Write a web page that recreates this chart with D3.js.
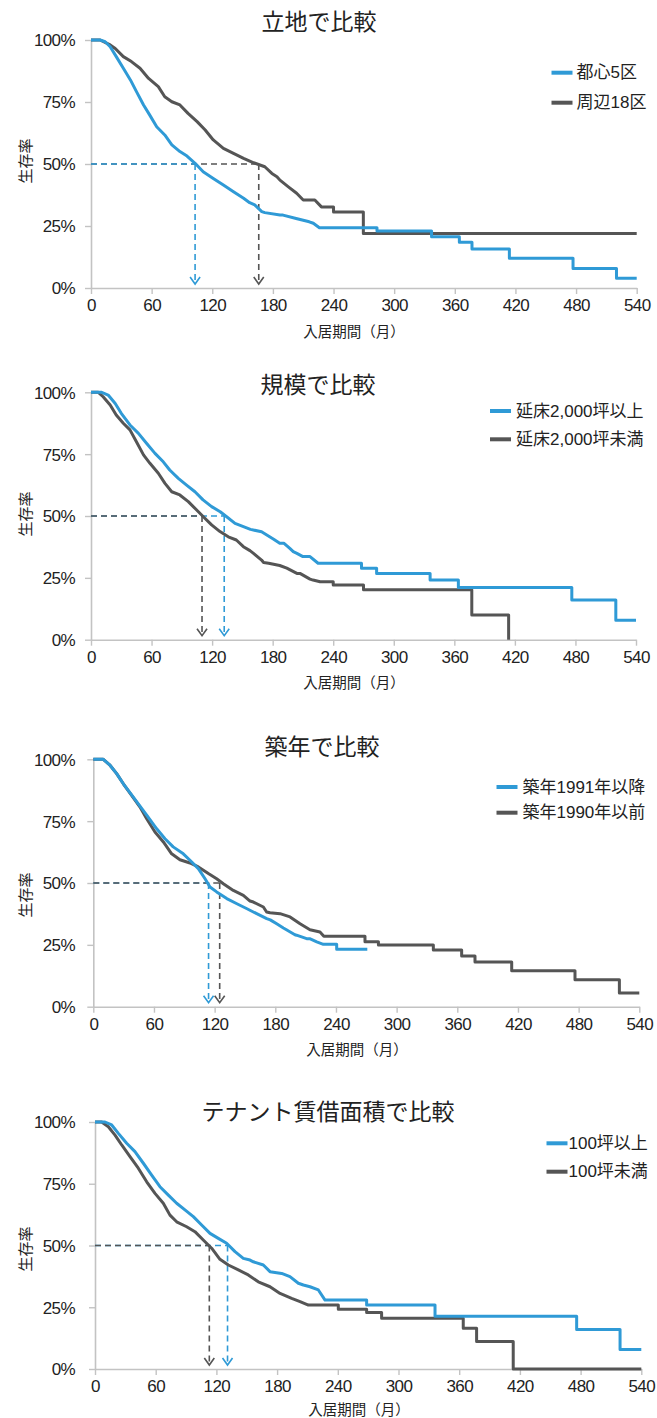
<!DOCTYPE html>
<html><head><meta charset="utf-8">
<script src="https://cdn.jsdelivr.net/npm/d3@7"></script>
<style>
html,body{margin:0;padding:0;background:#fff;}
svg{display:block;}
text{font-family:"Liberation Sans","Noto Sans CJK JP",sans-serif;fill:#222;}
.cjk{font-family:"Noto Sans CJK JP",sans-serif;}
</style></head><body>
<svg id="chart" width="657" height="1418"></svg>
<script>
// ---- data -------------------------------------------------------------
const monthTicks = [0, 60, 120, 180, 240, 300, 360, 420, 480, 540];
const pctTicks = [0, 25, 50, 75, 100];
const titles = ["立地で比較", "規模で比較", "築年で比較", "テナント賃借面積で比較"];
const blueNames = ["都心5区", "延床2,000坪以上", "築年1991年以降", "100坪以上"];
const grayNames = ["周辺18区", "延床2,000坪未満", "築年1990年以前", "100坪未満"];
const yTitle = "生存率";
const xTitle = "入居期間（月）";

// median tenancy (months) where each curve crosses 50%
const medianBlue = [103, 132, 114, 131];
const medianGray = [166, 110, 125, 113];

// survival curves: [months, survival %]
const blue1 = [[0,100],[9,100],[14,99.3],[19,97.3],[25,93.3],[32,88.6],[39,83.9],[45,79.2],[52,73.8],[58,69.8],[65,65.0],[73,61.7],[80,57.7],[88,55.0],[95,53.2],[103,50.3],[111,46.9],[121,44.2],[131,41.5],[141,38.8],[151,36.2],[157,34.4],[162,33.5],[169,30.8],[172,30.4],[187,29.4],[190,29.4],[203,28.0],[216,26.7],[220,26.1],[226,24.3],[283,24.3],[283,23.0],[337,23.0],[337,20.7],[364.5,20.7],[364.5,18.4],[377,18.4],[377,15.7],[414,15.7],[414,12.0],[477,12.0],[477,7.9],[520,7.9],[520,3.9],[540,3.9]];
const gray1 = [[0,100],[9,100],[19,98],[24,96.6],[32,93.3],[40,91.3],[48.5,88.6],[57,84.5],[66.6,81.2],[73,77.1],[80,75.1],[88,73.8],[96,70.4],[105,67.1],[113,63.7],[121,59.7],[131,56.3],[141,54.3],[151,52.3],[161,50.5],[172,48.9],[179,46.2],[184,44.9],[187,43.5],[195,40.9],[203.5,38.2],[210,35.5],[221.5,35.5],[228,32.7],[240,32.7],[240,30.6],[269.5,30.6],[269.5,22.0],[540,22.0]];

const blue2 = [[0,100],[10.6,100],[17,98.9],[24,95.5],[30,91.5],[38.6,86.8],[47,83.4],[55,79.4],[63.4,75.3],[71.6,71.9],[78,68.6],[86.5,65.2],[94.7,62.5],[103,59.8],[111,56.5],[119.5,53.8],[128,51.7],[134.4,49.7],[142.7,47.0],[151,45.7],[158,44.6],[169,43.6],[177,41.6],[181,40.6],[187,39.0],[191,39.0],[197,36.9],[200.4,35.6],[204,34.9],[210,33.6],[217,33.6],[225,30.9],[268,30.9],[268,28.9],[283,28.9],[283,26.8],[336,26.8],[336,24.1],[364,24.1],[364,21.1],[476.4,21.1],[476.4,16.0],[520,16.0],[520,7.9],[540,7.9]];
const gray2 = [[0,100],[7.3,100],[12,98.2],[19,94.9],[25,90.8],[32,87.5],[38.6,84.8],[45,80.0],[52,74.7],[58.4,71.3],[66.7,67.3],[73.3,63.2],[80,59.8],[88,58.5],[96.4,55.8],[104.7,52.4],[111.3,49.7],[119.5,46.4],[127.8,43.7],[136,41.6],[144,40.3],[151,37.6],[157.5,36.0],[161,34.9],[169,32.2],[171,31.2],[176,30.9],[187,30.0],[194,28.9],[204,26.8],[207,26.8],[217,24.5],[220,24.1],[227,23.4],[240,23.4],[240,22.1],[270,22.1],[270,20.2],[377.3,20.2],[377.3,10.0],[413.8,10.0],[413.8,0]];

const blue3 = [[0,100],[9.9,100],[16.5,97.6],[23.1,94.2],[29.7,90.1],[37.9,85.6],[46,81.2],[52.8,77.4],[62.7,71.9],[70.9,67.9],[79,64.6],[89,61.8],[95.6,59.2],[103.9,55.8],[110.5,51.7],[115.4,48.4],[122,46.4],[132,43.7],[142,41.6],[152,39.6],[161.6,37.6],[171.5,35.6],[175,35.1],[181.4,33.5],[188,31.8],[191,31.1],[199.4,29.1],[201,28.9],[211,27.5],[214,27.5],[221,26.2],[227.5,25.2],[240.7,25.2],[240.7,23.2],[271,23.2]];
const gray3 = [[0,100],[9.9,100],[16.5,97.6],[23.1,94.2],[29.7,90.1],[37.9,85.4],[46.2,80.7],[52.8,76.0],[61,70.6],[69.3,66.6],[77.5,61.8],[85.7,59.4],[95.6,58.1],[103.9,56.5],[113.8,53.8],[122,51.7],[128.6,49.7],[138.5,47.0],[148.4,45.0],[155,42.7],[158.3,42.3],[168.2,40.3],[171.4,38.3],[174.8,38.0],[184.7,37.6],[194.6,36.3],[204.5,33.5],[214.3,31.1],[224.2,30.2],[228,28.5],[268.7,28.5],[268.7,26.3],[282,26.3],[282,24.9],[336.3,24.9],[336.3,22.9],[364.3,22.9],[364.3,20.5],[377.5,20.5],[377.5,18.1],[413.8,18.1],[413.8,14.5],[476.4,14.5],[476.4,10.9],[520.3,10.9],[520.3,5.5],[540,5.5]];

const blue4 = [[0,100],[9.9,100],[16.5,98.8],[23.1,95.4],[31.3,91.4],[39.5,88.0],[47.8,83.3],[56,78.5],[64.2,73.8],[72.5,70.4],[80.7,67.1],[88.9,64.4],[97.2,61.7],[105.4,58.3],[113.7,54.9],[121.9,52.9],[130.1,50.9],[138.4,47.5],[146.6,44.8],[153.2,44.1],[156.5,43.4],[166.4,42.1],[173,39.4],[184.5,38.7],[192.7,37.4],[201,34.7],[206,34.0],[212.5,33.3],[220.8,32.0],[227.4,27.9],[268.5,27.9],[268.5,25.9],[336.1,25.9],[336.1,21.4],[476.1,21.4],[476.1,16.0],[519,16.0],[519,7.9],[540,7.9]];
const gray4 = [[0,100],[6.6,100],[13.2,98.1],[19.8,94.7],[26.4,90.7],[34.6,86.0],[42.8,81.3],[51.1,75.8],[59.3,71.1],[67.5,67.1],[74.1,62.3],[80.7,59.6],[90.6,57.6],[98.8,55.6],[107,52.2],[115.3,48.9],[123.5,44.4],[131.8,42.1],[141.7,40.1],[151.5,38.1],[161.4,35.3],[173,33.3],[182.9,30.6],[194.4,28.6],[202.7,27.3],[210.9,25.9],[240.5,25.9],[240.5,24.2],[268.5,24.2],[268.5,22.9],[283.3,22.9],[283.3,20.5],[364,20.5],[364,16.5],[377.2,16.5],[377.2,11.1],[413.4,11.1],[413.4,0],[540,0]];

const blueSeries = [blue1, blue2, blue3, blue4];
const graySeries = [gray1, gray2, gray3, gray4];

// ---- layout -------------------------------------------------------------
const BLUE = "#2f9ad6", GRAY = "#555555", AXIS = "#c3c3c3";
const frames = [
  {x0: 91,   x1: 636.7, yTop: 40,    yBot: 288,    titleX: 319, titleY: 20,   legX: 551.5, legY: [72.7, 102.7],   textGap: 25, yLabY: 161,  xLabX: 354, xLabDy: 42, blueOnTop: true},
  {x0: 91,   x1: 636,   yTop: 392.3, yBot: 639.7,  titleX: 318, titleY: 383,  legX: 490,   legY: [411, 439.3],    textGap: 26, yLabY: 514,  xLabX: 354, xLabDy: 42, blueOnTop: false},
  {x0: 93.3, x1: 639.3, yTop: 759.3, yBot: 1006.7, titleX: 322, titleY: 745,  legX: 496.5, legY: [787, 812.7],    textGap: 26, yLabY: 895,  xLabX: 357, xLabDy: 42, blueOnTop: false},
  {x0: 95,   x1: 641.3, yTop: 1122,  yBot: 1369,   titleX: 328, titleY: 1110, legX: 546.5, legY: [1143.3, 1171.7], textGap: 22, yLabY: 1249, xLabX: 359, xLabDy: 39, blueOnTop: false}
];

const svg = d3.select("#chart");
svg.append("rect").attr("width", 657).attr("height", 1418).attr("fill", "#fff");

frames.forEach((f, i) => {
  const g = svg.append("g");
  const x = d3.scaleLinear().domain([0, 540]).range([f.x0, f.x1]);
  const y = d3.scaleLinear().domain([0, 100]).range([f.yBot, f.yTop]);

  // axes
  const xAxis = g.append("g").attr("transform", `translate(0,${f.yBot})`)
    .call(d3.axisBottom(x).tickValues(monthTicks).tickSize(6).tickSizeOuter(0).tickPadding(5));
  const yAxis = g.append("g").attr("transform", `translate(${f.x0},0)`)
    .call(d3.axisLeft(y).tickValues(pctTicks).tickSize(6).tickSizeOuter(0)
      .tickPadding(f.x0 - 6 - 75).tickFormat(d => d + "%"));
  [xAxis, yAxis].forEach(a => {
    a.select(".domain").attr("stroke", AXIS).attr("stroke-width", 1.6);
    a.selectAll(".tick line").attr("stroke", AXIS).attr("stroke-width", 1.4);
    a.selectAll(".tick text").attr("font-size", 17).attr("fill", "#222")
      .attr("font-family", "Liberation Sans, sans-serif").attr("letter-spacing", -0.6);
  });
  yAxis.selectAll(".tick text").attr("dy", "0.35em");

  // titles
  g.append("text").attr("class", "cjk").attr("x", f.titleX).attr("y", f.titleY)
    .attr("text-anchor", "middle").attr("dominant-baseline", "central")
    .attr("font-size", 23).text(titles[i]);
  g.append("text").attr("class", "cjk")
    .attr("transform", `translate(24,${f.yLabY}) rotate(-90)`)
    .attr("text-anchor", "middle").attr("dominant-baseline", "central")
    .attr("font-size", 15).text(yTitle);
  g.append("text").attr("class", "cjk").attr("x", f.xLabX).attr("y", f.yBot + f.xLabDy)
    .attr("text-anchor", "middle").attr("dominant-baseline", "central")
    .attr("font-size", 14.5).text(xTitle);

  // median guides: dashed line at 50% and dashed arrow down to the axis
  const guides = [
    {m: medianBlue[i], c: BLUE},
    {m: medianGray[i], c: GRAY}
  ];
  const order = f.blueOnTop ? [guides[1], guides[0]] : [guides[0], guides[1]];
  const tip = f.yBot - 4;
  order.forEach(d => {
    g.append("line").attr("x1", x(0)).attr("x2", x(d.m)).attr("y1", y(50)).attr("y2", y(50))
      .attr("stroke", d.c).attr("stroke-width", 1.6).attr("stroke-dasharray", "6,4");
  });
  guides.forEach(d => {
    g.append("line").attr("x1", x(d.m)).attr("x2", x(d.m)).attr("y1", y(50)).attr("y2", tip)
      .attr("stroke", d.c).attr("stroke-width", 1.6).attr("stroke-dasharray", "6,4");
    g.append("path")
      .attr("d", `M${x(d.m) - 5},${tip - 7}L${x(d.m)},${tip}L${x(d.m) + 5},${tip - 7}`)
      .attr("fill", "none").attr("stroke", d.c).attr("stroke-width", 1.6);
  });

  // survival curves
  const line = d3.line().x(d => x(d[0])).y(d => y(d[1]));
  g.append("path").datum(graySeries[i]).attr("d", line)
    .attr("fill", "none").attr("stroke", GRAY).attr("stroke-width", 3).attr("stroke-linejoin", "round");
  g.append("path").datum(blueSeries[i]).attr("d", line)
    .attr("fill", "none").attr("stroke", BLUE).attr("stroke-width", 3).attr("stroke-linejoin", "round");

  // legend
  [[blueNames[i], BLUE], [grayNames[i], GRAY]].forEach(([name, c], k) => {
    g.append("line").attr("x1", f.legX).attr("x2", f.legX + 21)
      .attr("y1", f.legY[k]).attr("y2", f.legY[k])
      .attr("stroke", c).attr("stroke-width", 4);
    g.append("text").attr("x", f.legX + f.textGap).attr("y", f.legY[k])
      .attr("dominant-baseline", "central").attr("font-size", 17).text(name);
  });
});
</script></body></html>
